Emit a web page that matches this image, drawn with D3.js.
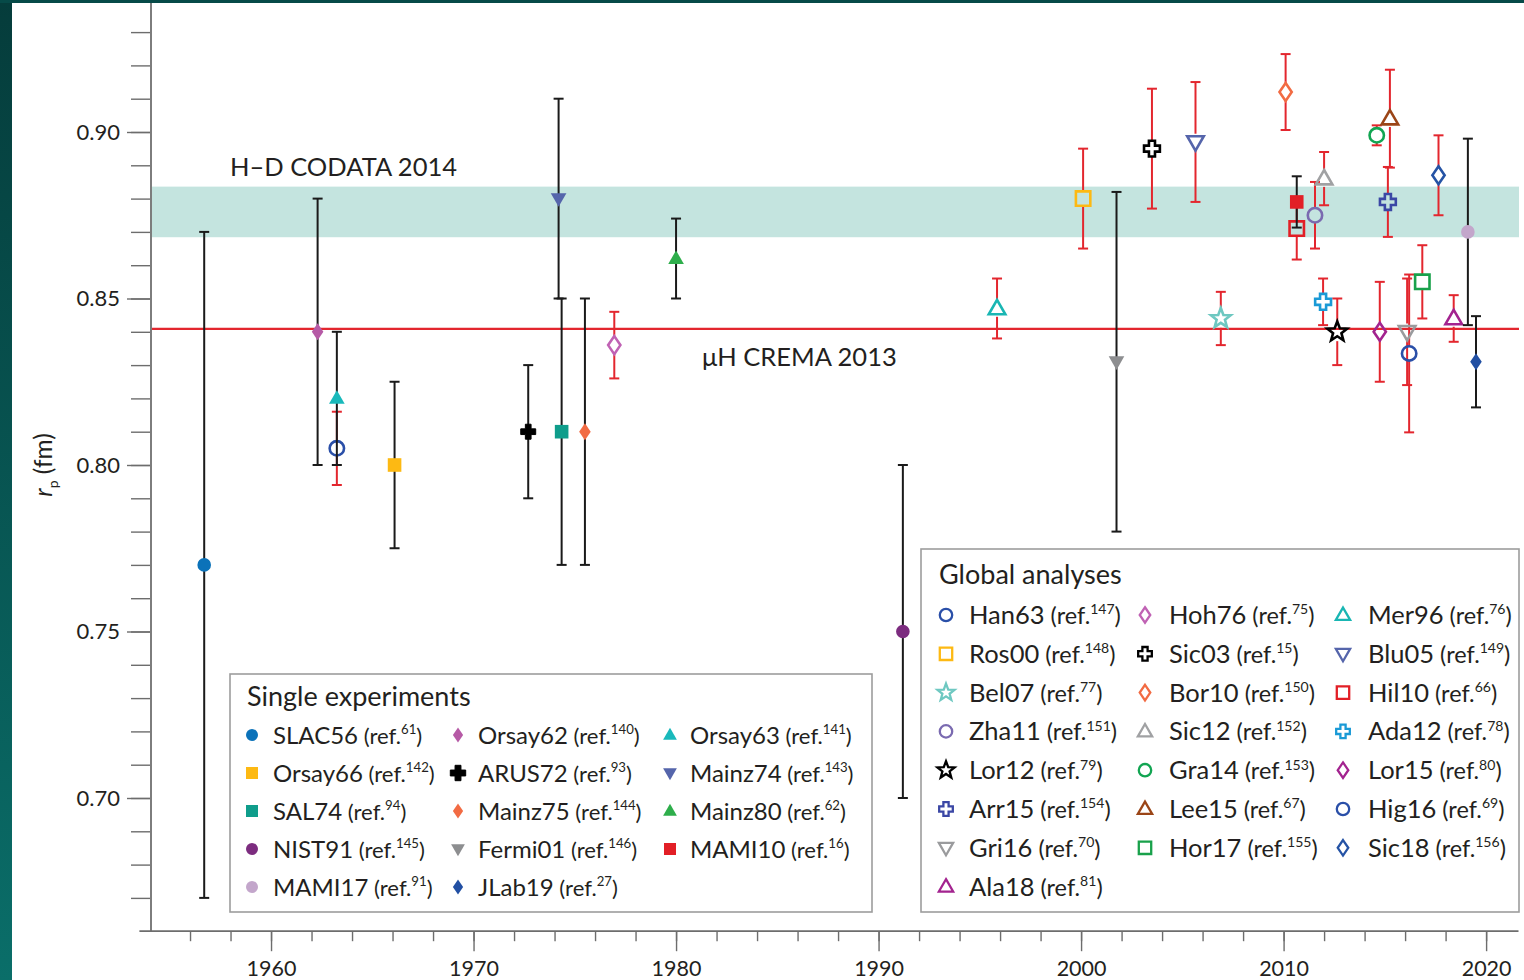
<!DOCTYPE html>
<html>
<head>
<meta charset="utf-8">
<script src="https://cdn.jsdelivr.net/npm/d3@7"></script>
<style>
  html, body { margin: 0; padding: 0; background: #ffffff; }
  svg { display: block; }
  text { font-family: Lato, "Open Sans", "Noto Sans", sans-serif; fill: #231f20; }
</style>
</head>
<body>
<svg id="chart" width="1524" height="980"></svg>
<script>
// ---- Proton charge radius r_p (fm) versus year of publication ----

// Single experiments (legend order)
const singleNames  = ["SLAC56", "Orsay62", "Orsay63", "Orsay66", "ARUS72", "Mainz74", "SAL74",
                      "Mainz75", "Mainz80", "NIST91", "Fermi01", "MAMI10", "MAMI17", "JLab19"];
const singleRefs   = ["61", "140", "141", "142", "93", "143", "94", "144", "62", "145", "146", "16", "91", "27"];
const singleYears  = [1956.7, 1962.3, 1963.25, 1966.1, 1972.7, 1974.2, 1974.35,
                      1975.5, 1980.0, 1991.2, 2001.75, 2010.65, 2019.1, 2019.5];
const singleValues = [0.770, 0.840, 0.820, 0.800, 0.810, 0.880, 0.810,
                      0.810, 0.862, 0.750, 0.831, 0.879, 0.870, 0.831];
const singleErrors = [0.100, 0.040, 0.020, 0.025, 0.020, 0.030, 0.040,
                      0.040, 0.012, 0.050, 0.051, 0.0077, 0.028, 0.0137];

// Global analyses (legend order)
const globalNames  = ["Han63", "Hoh76", "Mer96", "Ros00", "Sic03", "Blu05", "Bel07", "Bor10",
                      "Hil10", "Zha11", "Sic12", "Ada12", "Lor12", "Gra14", "Lor15", "Arr15",
                      "Lee15", "Hig16", "Gri16", "Hor17", "Sic18", "Ala18"];
const globalRefs   = ["147", "75", "76", "148", "15", "149", "77", "150", "66", "151", "152",
                      "78", "79", "153", "80", "154", "67", "69", "70", "155", "156", "81"];
const globalYears  = [1963.25, 1976.95, 1995.85, 2000.1, 2003.5, 2005.65, 2006.9, 2010.1,
                      2010.65, 2011.55, 2012.0, 2011.95, 2012.65, 2014.6, 2014.75, 2015.15,
                      2015.25, 2016.2, 2016.1, 2016.85, 2017.65, 2018.4];
const globalValues = [0.805, 0.836, 0.847, 0.880, 0.895, 0.897, 0.844, 0.912,
                      0.871, 0.875, 0.886, 0.849, 0.840, 0.899, 0.840, 0.879,
                      0.904, 0.8335, 0.840, 0.855, 0.887, 0.844];
const globalErrors = [0.011, 0.010, 0.009, 0.015, 0.018, 0.018, 0.008, 0.0114,
                      0.0093, 0.010, 0.008, 0.007, 0.010, 0.003, 0.015, 0.0105,
                      0.0147, 0.0237, 0.016, 0.011, 0.012, 0.007];

// Reference values
const codataValue = 0.876;   // H–D CODATA 2014 band centre
const codataError = 0.0076;
const muonValue   = 0.8409;  // μH CREMA 2013

// Axis ticks
const yMajorTicks = [0.70, 0.75, 0.80, 0.85, 0.90];
const yTickLabels = ["0.70", "0.75", "0.80", "0.85", "0.90"];
const xMajorTicks = [1960, 1970, 1980, 1990, 2000, 2010, 2020];

// ---- Marker styles ----
const singleStyle = {
  SLAC56:  { shape: "circle",  color: "#0b72b9" },
  Orsay62: { shape: "diamond", color: "#b65aa6" },
  Orsay63: { shape: "triUp",   color: "#19b9bb" },
  Orsay66: { shape: "square",  color: "#fdb913" },
  ARUS72:  { shape: "plus",    color: "#000000" },
  Mainz74: { shape: "triDown", color: "#5565ab" },
  SAL74:   { shape: "square",  color: "#0f9d8b" },
  Mainz75: { shape: "diamond", color: "#f26b43" },
  Mainz80: { shape: "triUp",   color: "#2eae4b" },
  NIST91:  { shape: "circle",  color: "#7c2c7f" },
  Fermi01: { shape: "triDown", color: "#8d8e90" },
  MAMI10:  { shape: "square",  color: "#e21f26" },
  MAMI17:  { shape: "circle",  color: "#c3a6cb" },
  JLab19:  { shape: "diamond", color: "#214fa3" }
};
const globalStyle = {
  Han63: { shape: "circle",  color: "#2a4fa8" },
  Hoh76: { shape: "diamond", color: "#c062b4" },
  Mer96: { shape: "triUp",   color: "#19b6b3" },
  Ros00: { shape: "square",  color: "#fdb913" },
  Sic03: { shape: "plus",    color: "#000000" },
  Blu05: { shape: "triDown", color: "#5565ab" },
  Bel07: { shape: "star",    color: "#6ec8c1" },
  Bor10: { shape: "diamond", color: "#f26b43" },
  Hil10: { shape: "square",  color: "#e21f26" },
  Zha11: { shape: "circle",  color: "#7a6ab0" },
  Sic12: { shape: "triUp",   color: "#a0a1a3" },
  Ada12: { shape: "plus",    color: "#1a9ad6" },
  Lor12: { shape: "star",    color: "#000000" },
  Gra14: { shape: "circle",  color: "#12a552" },
  Lor15: { shape: "diamond", color: "#a3238f" },
  Arr15: { shape: "plus",    color: "#3b47a5" },
  Lee15: { shape: "triUp",   color: "#9b4517" },
  Hig16: { shape: "circle",  color: "#2a4fa8" },
  Gri16: { shape: "triDown", color: "#9a9b9d" },
  Hor17: { shape: "square",  color: "#19a14b" },
  Sic18: { shape: "diamond", color: "#2553a5" },
  Ala18: { shape: "triUp",   color: "#a3238f" }
};

const RED = "#e3262e";
const BAR_BLACK = "#1a1a1a";

// Marker outline centred on (0,0); s is the nominal half-size
function shapePath(shape, s) {
  const p = d3.path();
  if (shape === "circle") {
    p.arc(0, 0, s, 0, 2 * Math.PI);
  } else if (shape === "square") {
    p.rect(-s, -s, 2 * s, 2 * s);
  } else if (shape === "triUp" || shape === "triDown") {
    const w = s * 1.15, h = w * Math.sqrt(3);
    const sg = shape === "triUp" ? 1 : -1;
    p.moveTo(0, -sg * h * 0.6);
    p.lineTo(w, sg * h * 0.4);
    p.lineTo(-w, sg * h * 0.4);
    p.closePath();
  } else if (shape === "diamond") {
    const a = s * 1.25, b = s * 0.85;
    p.moveTo(0, -a); p.lineTo(b, 0); p.lineTo(0, a); p.lineTo(-b, 0); p.closePath();
  } else if (shape === "plus") {
    const e = s * 1.1, t = s * 0.42;
    p.moveTo(-t, -e); p.lineTo(t, -e); p.lineTo(t, -t); p.lineTo(e, -t); p.lineTo(e, t);
    p.lineTo(t, t); p.lineTo(t, e); p.lineTo(-t, e); p.lineTo(-t, t); p.lineTo(-e, t);
    p.lineTo(-e, -t); p.lineTo(-t, -t); p.closePath();
  } else if (shape === "star") {
    const R = s * 1.45, r = R * 0.42;
    for (let i = 0; i < 10; i++) {
      const ang = -Math.PI / 2 + i * Math.PI / 5;
      const rad = i % 2 === 0 ? R : r;
      const px = rad * Math.cos(ang), py = rad * Math.sin(ang);
      if (i === 0) p.moveTo(px, py); else p.lineTo(px, py);
    }
    p.closePath();
  }
  return p.toString();
}

// Vertical gap radius used to break an error bar around an open marker
function gapRadius(shape, s) {
  if (shape === "diamond") return s * 1.25;
  if (shape === "triUp" || shape === "triDown") return s * 1.15;
  if (shape === "plus") return s * 1.1;
  if (shape === "star") return s * 1.3;
  return s;
}

// ---- Canvas ----
const svg = d3.select("#chart");
const W = 1524, H = 980;

// Dark teal page frame
const defs = svg.append("defs");
const grad = defs.append("linearGradient").attr("id", "edge").attr("x1", 0).attr("y1", 0).attr("x2", 0).attr("y2", 1);
grad.append("stop").attr("offset", "0%").attr("stop-color", "#053c3b");
grad.append("stop").attr("offset", "100%").attr("stop-color", "#0a6e69");
svg.append("rect").attr("x", 0).attr("y", 0).attr("width", W).attr("height", H).attr("fill", "#ffffff");

// ---- Scales ----
const x = d3.scaleLinear().domain([1953.5, 2021.6]).range([139.4, 1518.5]);
const y = d3.scaleLinear().domain([0.66, 0.94]).range([931.2, -1.2]);
const plotLeft = 151, plotRight = 1519;

// ---- Reference band and line ----
svg.append("rect")
  .attr("x", plotLeft).attr("width", plotRight - plotLeft)
  .attr("y", y(codataValue + codataError))
  .attr("height", y(codataValue - codataError) - y(codataValue + codataError))
  .attr("fill", "#c4e4df");

svg.append("line")
  .attr("x1", plotLeft).attr("x2", plotRight)
  .attr("y1", y(muonValue)).attr("y2", y(muonValue))
  .attr("stroke", RED).attr("stroke-width", 2.2);

svg.append("text").attr("x", 230).attr("y", 176)
  .attr("font-size", 25.5).text("H–D CODATA 2014");
svg.append("text").attr("x", 702).attr("y", 366)
  .attr("font-size", 25.5).text("μH CREMA 2013");

// ---- Axes ----
const axisColor = "#7d7d7d";

const yAxisG = svg.append("g").attr("transform", `translate(${plotLeft},0)`);
yAxisG.call(d3.axisLeft(y).tickValues(d3.range(0.67, 0.935, 0.01)).tickSize(20).tickFormat(""));
yAxisG.call(g => g.select(".domain").remove());
const yMajorG = svg.append("g").attr("transform", `translate(${plotLeft},0)`);
yMajorG.call(d3.axisLeft(y).tickValues(yMajorTicks).tickSize(24).tickPadding(7)
  .tickFormat((d, i) => yTickLabels[i]));
yMajorG.select(".domain").remove();
svg.selectAll("g.tick line").attr("stroke", axisColor).attr("stroke-width", 1.6);
yMajorG.selectAll("text").attr("font-size", 22).attr("fill", "#231f20")
  .style("font-family", "Lato, sans-serif");
svg.append("line").attr("x1", plotLeft).attr("x2", plotLeft).attr("y1", 3).attr("y2", y(0.66))
  .attr("stroke", axisColor).attr("stroke-width", 2);

const xMinorG = svg.append("g").attr("transform", `translate(0,${y(0.66)})`);
xMinorG.call(d3.axisBottom(x).tickValues(d3.range(1956, 2021, 2)).tickSize(10).tickFormat(""));
xMinorG.select(".domain").remove();
const xMajorG = svg.append("g").attr("transform", `translate(0,${y(0.66)})`);
xMajorG.call(d3.axisBottom(x).tickValues(xMajorTicks).tickSize(20).tickPadding(10).tickFormat(d3.format("d")));
xMajorG.select(".domain").remove();
svg.selectAll("g.tick line").attr("stroke", "#6d6d6d").attr("stroke-width", 1.4);
xMajorG.selectAll("text").attr("font-size", 21.5).attr("fill", "#231f20")
  .style("font-family", "Lato, sans-serif");
svg.append("line").attr("x1", x.range()[0]).attr("x2", x.range()[1])
  .attr("y1", y(0.66)).attr("y2", y(0.66))
  .attr("stroke", "#6d6d6d").attr("stroke-width", 1.8);

// Axis title: r_p (fm)
const yTitle = svg.append("text")
  .attr("transform", "translate(52,465) rotate(-90)")
  .attr("text-anchor", "middle").attr("font-size", 24.5);
yTitle.append("tspan").attr("font-style", "italic").text("r");
yTitle.append("tspan").attr("font-size", 14).attr("dy", 6).text("p");
yTitle.append("tspan").attr("dy", -6).text(" (fm)");

// ---- Data points ----
const CAP = 5;
function drawErrorBar(g, xv, v, err, color, gap) {
  const cx = x(xv);
  const yTop = y(v + err), yBot = y(v - err), yc = y(v);
  const segs = gap > 0 ? [[yTop, yc - gap], [yc + gap, yBot]] : [[yTop, yBot]];
  segs.forEach(([a, b]) => {
    if (b > a) g.append("line").attr("x1", cx).attr("x2", cx).attr("y1", a).attr("y2", b)
      .attr("stroke", color).attr("stroke-width", 2);
  });
  [yTop, yBot].forEach(yy => g.append("line")
    .attr("x1", cx - CAP).attr("x2", cx + CAP).attr("y1", yy).attr("y2", yy)
    .attr("stroke", color).attr("stroke-width", 2));
}

const SINGLE_SIZE = 6.8, GLOBAL_SIZE = 7.2;

// Global analyses: red error bars, open markers
const globalG = svg.append("g");
globalNames.forEach((n, i) => {
  const st = globalStyle[n];
  drawErrorBar(globalG, globalYears[i], globalValues[i], globalErrors[i], RED, gapRadius(st.shape, GLOBAL_SIZE));
});
globalNames.forEach((n, i) => {
  const st = globalStyle[n];
  globalG.append("path")
    .attr("d", shapePath(st.shape, GLOBAL_SIZE))
    .attr("transform", `translate(${x(globalYears[i])},${y(globalValues[i])})`)
    .attr("fill", "none").attr("stroke", st.color).attr("stroke-width", 2.6)
    .attr("stroke-linejoin", "miter");
});

// Single experiments: black error bars, filled markers
const singleG = svg.append("g");
singleNames.forEach((n, i) => {
  drawErrorBar(singleG, singleYears[i], singleValues[i], singleErrors[i], BAR_BLACK, 0);
});
singleNames.forEach((n, i) => {
  const st = singleStyle[n];
  singleG.append("path")
    .attr("d", shapePath(st.shape, SINGLE_SIZE))
    .attr("transform", `translate(${x(singleYears[i])},${y(singleValues[i])})`)
    .attr("fill", st.color).attr("stroke", st.shape === "plus" ? st.color : "none")
    .attr("stroke-width", 1);
});

// ---- Legends ----
function legendLabel(g, tx, ty, name, ref, size) {
  const t = g.append("text").attr("x", tx).attr("y", ty).attr("font-size", size);
  t.append("tspan").text(name);
  t.append("tspan").attr("font-size", size * 0.92).text(" (ref.");
  t.append("tspan").attr("font-size", size * 0.55).attr("dy", -size * 0.38).text(ref);
  t.append("tspan").attr("font-size", size * 0.92).attr("dy", size * 0.38).text(")");
}

// Single experiments box
const legS = svg.append("g");
legS.append("rect").attr("x", 230).attr("y", 674).attr("width", 642).attr("height", 238)
  .attr("fill", "#ffffff").attr("stroke", "#9d9d9d").attr("stroke-width", 1.6);
legS.append("text").attr("x", 247).attr("y", 706).attr("font-size", 27).text("Single experiments");
const sColX = [252, 458, 670], sTextX = [273, 478, 690];
singleNames.forEach((n, i) => {
  const row = Math.floor(i / 3), col = i % 3;
  const cy = 735 + row * 38;
  const st = singleStyle[n];
  legS.append("path").attr("d", shapePath(st.shape, st.shape === "plus" ? 7 : 6))
    .attr("transform", `translate(${sColX[col]},${cy})`)
    .attr("fill", st.color).attr("stroke", st.shape === "plus" ? st.color : "none");
  legendLabel(legS, sTextX[col], cy + 8.5, n, singleRefs[i], 24);
});

// Global analyses box
const legG = svg.append("g");
legG.append("rect").attr("x", 921).attr("y", 549).attr("width", 598).attr("height", 363)
  .attr("fill", "#ffffff").attr("stroke", "#9d9d9d").attr("stroke-width", 1.6);
legG.append("text").attr("x", 939).attr("y", 584).attr("font-size", 27).text("Global analyses");
const gColX = [946, 1145, 1343], gTextX = [969, 1169, 1368];
globalNames.forEach((n, i) => {
  const row = Math.floor(i / 3), col = i % 3;
  const cy = 615 + row * 38.8;
  const st = globalStyle[n];
  legG.append("path").attr("d", shapePath(st.shape, 6.2))
    .attr("transform", `translate(${gColX[col]},${cy})`)
    .attr("fill", "none").attr("stroke", st.color).attr("stroke-width", 2.3);
  legendLabel(legG, gTextX[col], cy + 9, n, globalRefs[i], 25.5);
});

// Frame edges
svg.append("rect").attr("x", 0).attr("y", 0).attr("width", 12).attr("height", H).attr("fill", "url(#edge)");
svg.append("rect").attr("x", 0).attr("y", 0).attr("width", W).attr("height", 3).attr("fill", "#064a48");
</script>
</body>
</html>
